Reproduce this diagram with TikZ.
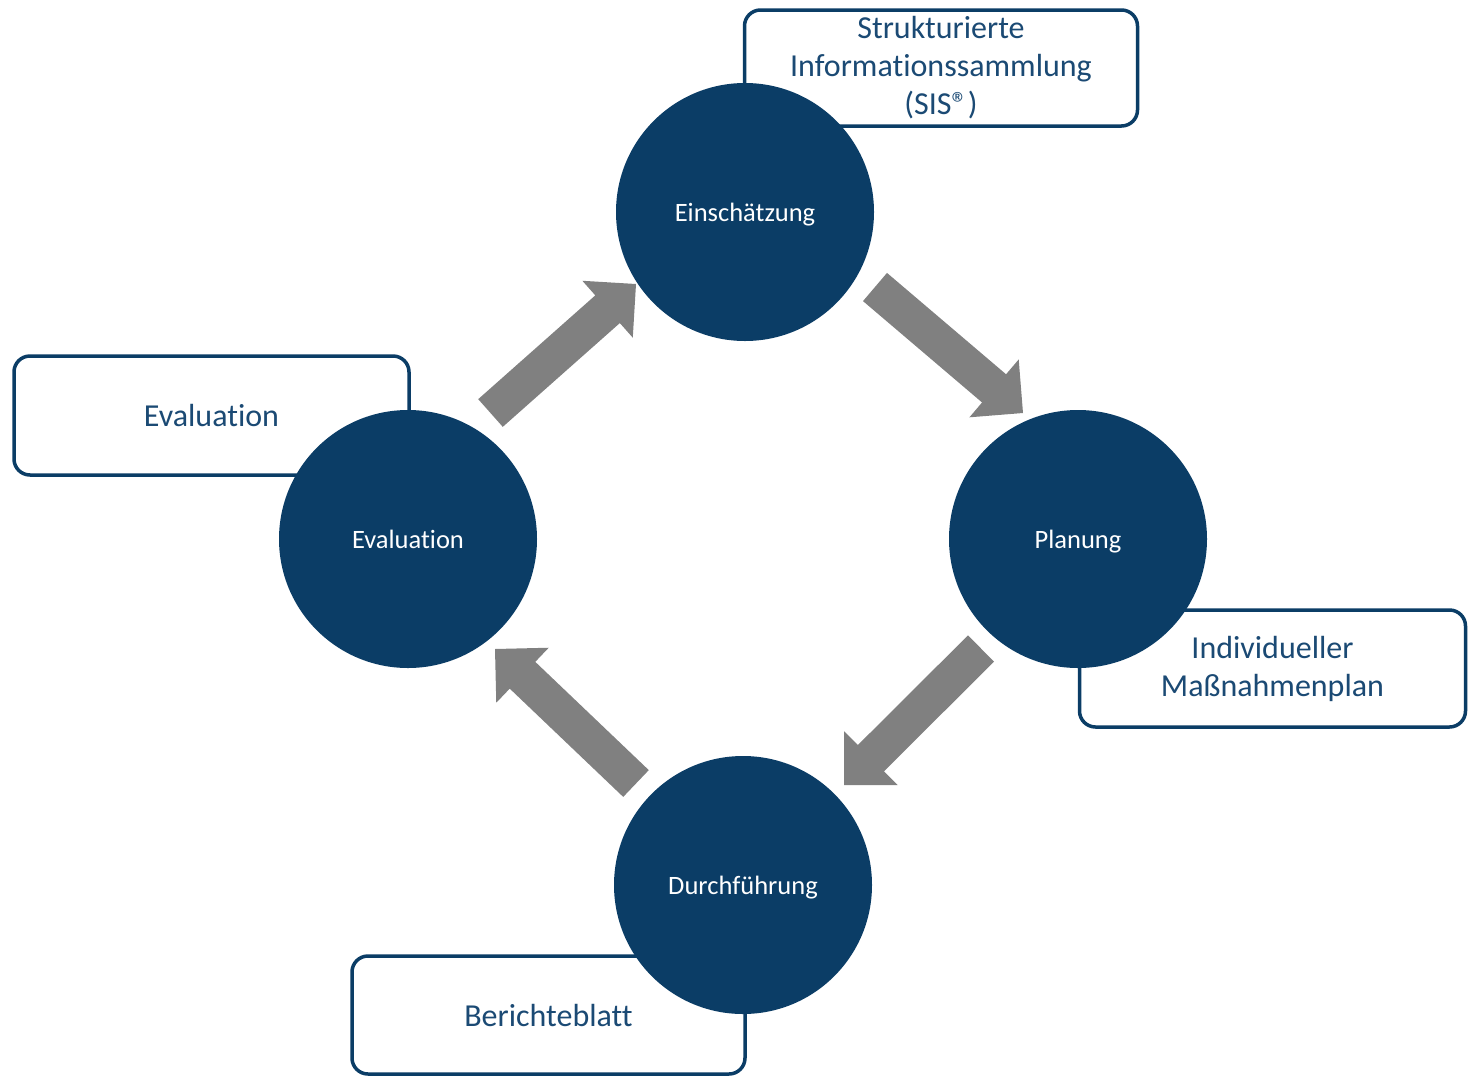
\documentclass[tikz,border=0pt]{standalone}
\usepackage{fontspec}
\setmainfont{Carlito}[Ligatures={NoCommon}]
\usetikzlibrary{calc}
\definecolor{navy}{HTML}{0B3D66}
\definecolor{boxtext}{HTML}{1B4A74}
\definecolor{arrowgray}{HTML}{808080}
\newcommand{\blockarrow}[2]{%
  \coordinate (hb) at ($(#2)!38pt!(#1)$);
  \fill[arrowgray]
    ($(#1)!18.5pt!90:(#2)$) -- ($(hb)!18.5pt!90:(#2)$) -- ($(hb)!38pt!90:(#2)$)
    -- (#2) -- ($(hb)!38pt!-90:(#2)$) -- ($(hb)!18.5pt!-90:(#2)$)
    -- ($(#1)!18.5pt!-90:(#2)$) -- cycle;
}
\begin{document}
\begin{tikzpicture}[x=1pt,y=1pt,
  infobox/.style={draw=navy, line width=3.5pt, rounded corners=16pt, fill=white,
    text=boxtext, font=\fontsize{32}{38}\selectfont, align=center, inner sep=0pt},
  phase/.style={circle, fill=navy, minimum size=258pt, inner sep=0pt,
    text=white, text depth=0pt, font=\fontsize{26.5}{30}\selectfont}]
\useasboundingbox[fill=white] (0,0) rectangle (1468,-1077);

% info boxes (behind circles)
\node[infobox, minimum width=393pt, minimum height=116pt] (sis) at (941,-68)
  {Strukturierte\\Informationssammlung\\(SIS®)};
\node[infobox, minimum width=395pt, minimum height=119pt] (evbox) at (211.5,-415.5)
  {Evaluation};
\node[infobox, minimum width=386pt, minimum height=117pt] (mpbox) at (1272.5,-668.5)
  {Individueller\\Maßnahmenplan};
\node[infobox, minimum width=393pt, minimum height=118pt] (bbox) at (548.5,-1015)
  {Berichteblatt};

% phase circles
\node[phase] (ein) at (745,-212) {Einschätzung};
\node[phase] (plan) at (1078,-539) {Planung};
\node[phase] (durch) at (743,-885) {Durchführung};
\node[phase] (eval) at (408,-539) {Evaluation};

% arrow end points
\coordinate (a1s) at (490.5,-413);  \coordinate (a1t) at (636,-284);
\coordinate (a2s) at (875,-287);    \coordinate (a2t) at (1023,-413);
\coordinate (a3s) at (981,-648.5);  \coordinate (a3t) at (844,-785);
\coordinate (a4s) at (636,-783.5);  \coordinate (a4t) at (495,-649);

\blockarrow{a1s}{a1t}
\blockarrow{a2s}{a2t}
\blockarrow{a3s}{a3t}
\blockarrow{a4s}{a4t}
\end{tikzpicture}
\end{document}
